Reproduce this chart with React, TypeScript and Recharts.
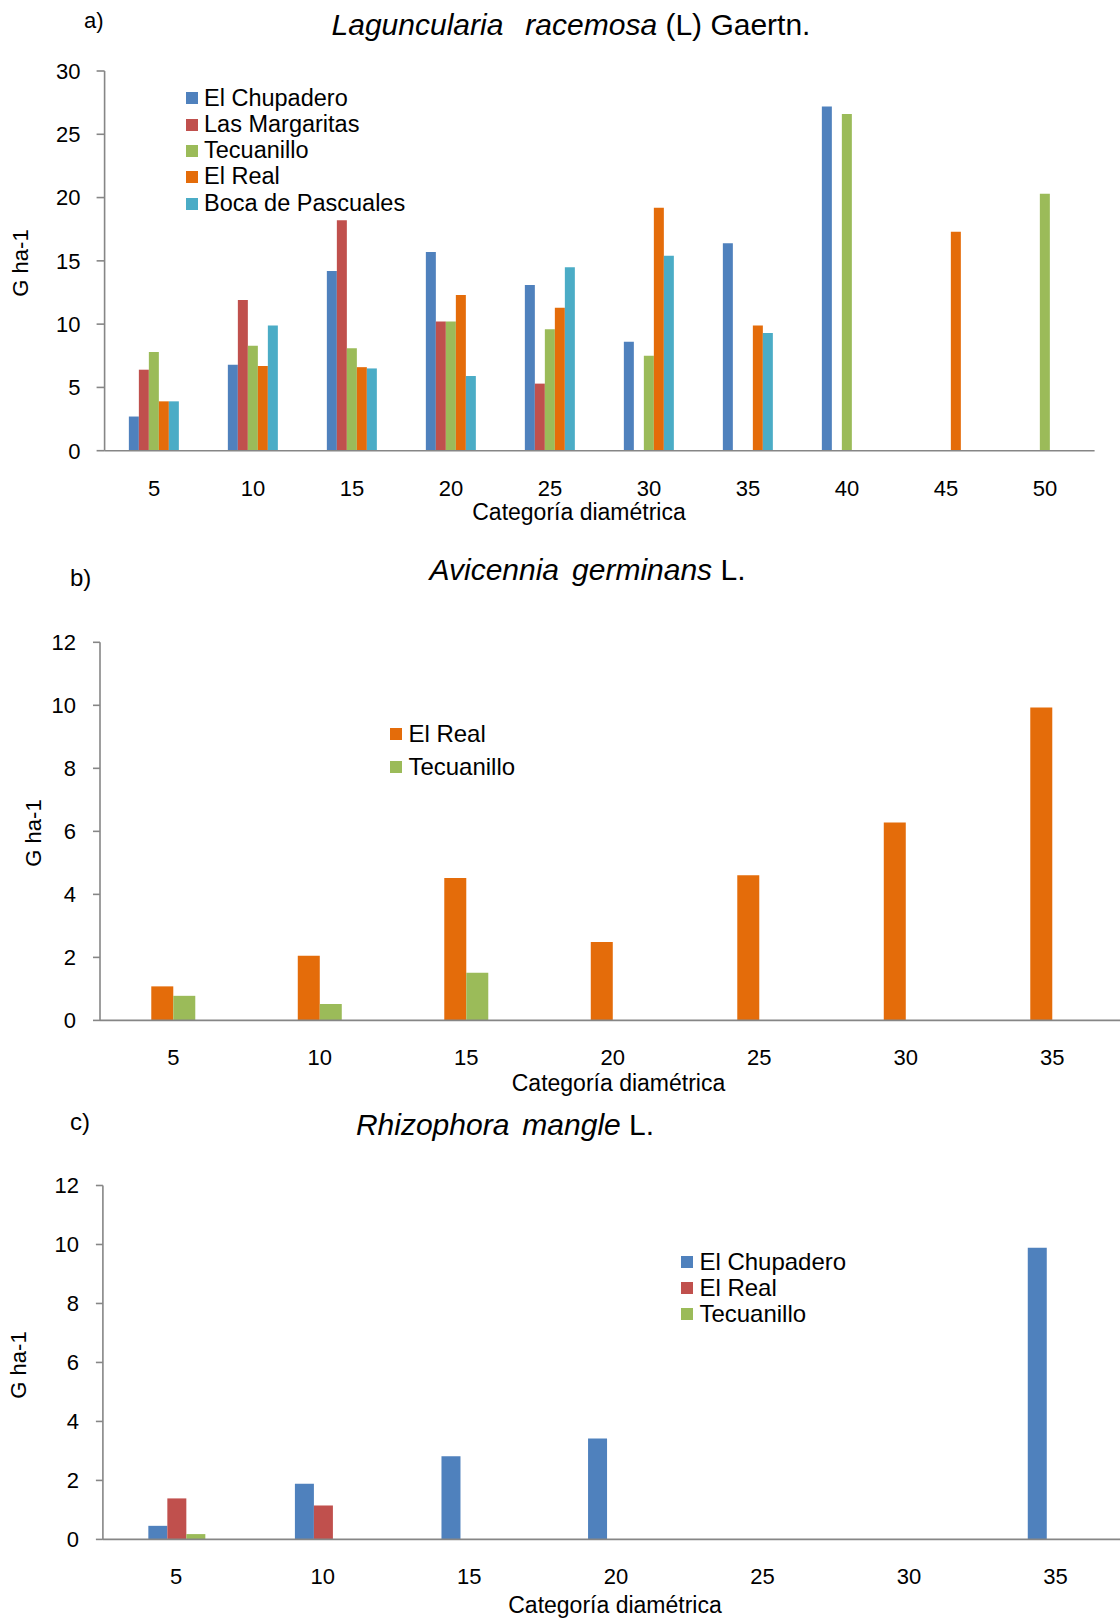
import React from 'react';
import { BarChart, Bar, XAxis, YAxis, Legend } from 'recharts';

const FONT = '"Liberation Sans", Arial, Helvetica, sans-serif';
const AXIS = '#868686';
const BLUE = '#4F81BD';
const RED = '#C0504D';
const GREEN = '#9BBB59';
const ORANGE = '#E46C0A';
const CYAN = '#4BACC6';

// ---------- Panel a) Laguncularia racemosa ----------
const categoriesA = [5, 10, 15, 20, 25, 30, 35, 40, 45, 50];
const elChupaderoA = [2.7, 6.8, 14.2, 15.7, 13.1, 8.6, 16.4, 27.2, null, null];
const lasMargaritasA = [6.4, 11.9, 18.2, 10.2, 5.3, null, null, null, null, null];
const tecuanilloA = [7.8, 8.3, 8.1, 10.2, 9.6, 7.5, null, 26.6, null, 20.3];
const elRealA = [3.9, 6.7, 6.6, 12.3, 11.3, 19.2, 9.9, null, 17.3, null];
const bocaDePascualesA = [3.9, 9.9, 6.5, 5.9, 14.5, 15.4, 9.3, null, null, null];
const yTicksA = [0, 5, 10, 15, 20, 25, 30];

// ---------- Panel b) Avicennia germinans ----------
const categoriesB = [5, 10, 15, 20, 25, 30, 35];
const elRealB = [1.08, 2.05, 4.52, 2.49, 4.61, 6.28, 9.93];
const tecuanilloB = [0.78, 0.52, 1.51, null, null, null, null];
const yTicksB = [0, 2, 4, 6, 8, 10, 12];

// ---------- Panel c) Rhizophora mangle ----------
const categoriesC = [5, 10, 15, 20, 25, 30, 35];
const elChupaderoC = [0.46, 1.89, 2.82, 3.42, null, null, 9.89];
const elRealC = [1.39, 1.15, null, null, null, null, null];
const tecuanilloC = [0.18, null, null, null, null, null, null];
const yTicksC = [0, 2, 4, 6, 8, 10, 12];

type Series = { key: string; name: string; color: string; values: (number | null)[] };

const seriesA: Series[] = [
  { key: 'chup', name: 'El Chupadero', color: BLUE, values: elChupaderoA },
  { key: 'marg', name: 'Las Margaritas', color: RED, values: lasMargaritasA },
  { key: 'tecu', name: 'Tecuanillo', color: GREEN, values: tecuanilloA },
  { key: 'real', name: 'El Real', color: ORANGE, values: elRealA },
  { key: 'boca', name: 'Boca de Pascuales', color: CYAN, values: bocaDePascualesA },
];
const seriesB: Series[] = [
  { key: 'real', name: 'El Real', color: ORANGE, values: elRealB },
  { key: 'tecu', name: 'Tecuanillo', color: GREEN, values: tecuanilloB },
];
const seriesC: Series[] = [
  { key: 'chup', name: 'El Chupadero', color: BLUE, values: elChupaderoC },
  { key: 'real', name: 'El Real', color: RED, values: elRealC },
  { key: 'tecu', name: 'Tecuanillo', color: GREEN, values: tecuanilloC },
];

function buildData(categories: number[], series: Series[]) {
  return categories.map((c, i) => {
    const row: any = { cat: String(c) };
    series.forEach((s) => {
      row[s.key] = s.values[i];
    });
    return row;
  });
}

const legendContent = (series: Series[], rowH: number, fontSize: number) => (props: any) => {
  const order = series.map((s) => s.name);
  const items = [...(props.payload || [])].sort(
    (a: any, b: any) => order.indexOf(a.value) - order.indexOf(b.value)
  );
  return (
    <div style={{ fontFamily: FONT }}>
      {items.map((p: any) => (
        <div key={p.value} style={{ display: 'flex', alignItems: 'center', height: rowH }}>
          <span
            style={{ display: 'inline-block', width: 12, height: 12, background: p.color, marginRight: 6, flex: 'none' }}
          />
          <span style={{ fontSize, lineHeight: 1, color: '#000', whiteSpace: 'nowrap' }}>{p.value}</span>
        </div>
      ))}
    </div>
  );
};

type PanelProps = {
  top: number;
  width: number;
  height: number;
  margin: { top: number; right: number; bottom: number; left: number };
  categories: number[];
  series: Series[];
  yTicks: number[];
  gap: string;
  tickSizeY: number;
  tickMarginX: number;
  legendLeft: number;
  legendTop: number;
  legendRowH: number;
  legendFont: number;
};

function Panel(p: PanelProps) {
  const data = buildData(p.categories, p.series);
  const yMax = p.yTicks[p.yTicks.length - 1];
  return (
    <div style={{ position: 'absolute', left: 0, top: p.top, width: p.width, height: p.height }}>
      <BarChart width={p.width} height={p.height} data={data} margin={p.margin} barCategoryGap={p.gap} barGap={0}>
        <XAxis
          dataKey="cat"
          height={40}
          interval={0}
          tickLine={false}
          tickSize={6}
          tickMargin={p.tickMarginX}
          axisLine={{ stroke: AXIS, strokeWidth: 1.6 }}
          tick={{ fill: '#000', fontSize: 22, fontFamily: FONT }}
        />
        <YAxis
          width={70}
          domain={[0, yMax]}
          ticks={p.yTicks}
          interval={0}
          tickSize={p.tickSizeY}
          tickMargin={24 - p.tickSizeY}
          axisLine={{ stroke: AXIS, strokeWidth: 1.6 }}
          tickLine={{ stroke: AXIS, strokeWidth: 1.6 }}
          tick={{ fill: '#000', fontSize: 22, fontFamily: FONT }}
        />
        <Legend
          layout="vertical"
          align="center"
          verticalAlign="middle"
          wrapperStyle={{ left: p.legendLeft, top: p.legendTop, width: 'auto', height: 'auto' }}
          content={legendContent(p.series, p.legendRowH, p.legendFont)}
        />
        {p.series.map((s) => (
          <Bar key={s.key} dataKey={s.key} name={s.name} fill={s.color} isAnimationActive={false} />
        ))}
      </BarChart>
    </div>
  );
}

function TextAt(props: {
  x: number;
  baseline: number;
  size: number;
  anchor?: 'start' | 'middle';
  children: React.ReactNode;
}) {
  const { x, baseline, size, anchor = 'start', children } = props;
  return (
    <div
      style={{
        position: 'absolute',
        left: x,
        top: baseline - 0.8465 * size,
        fontSize: size,
        lineHeight: 1,
        fontFamily: FONT,
        color: '#000',
        whiteSpace: 'nowrap',
        transform: anchor === 'middle' ? 'translateX(-50%)' : undefined,
      }}
    >
      {children}
    </div>
  );
}

function VText(props: { cx: number; cy: number; size: number; children: React.ReactNode }) {
  return (
    <div
      style={{
        position: 'absolute',
        left: props.cx,
        top: props.cy,
        fontSize: props.size,
        lineHeight: 1,
        fontFamily: FONT,
        color: '#000',
        whiteSpace: 'nowrap',
        transform: 'translate(-50%, -50%) rotate(-90deg)',
      }}
    >
      {props.children}
    </div>
  );
}

export default function App() {
  return (
    <div
      style={{
        position: 'absolute',
        left: 0,
        top: 0,
        width: 1120,
        height: 1621,
        overflow: 'hidden',
        background: '#fff',
        fontFamily: FONT,
      }}
    >
      {/* Panel a */}
      <Panel
        top={0}
        width={1120}
        height={520}
        margin={{ top: 71, right: 25.4, bottom: 29.3, left: 34.6 }}
        categories={categoriesA}
        series={seriesA}
        yTicks={yTicksA}
        gap="24.5%"
        tickSizeY={8}
        tickMarginX={23.5}
        legendLeft={186}
        legendTop={85.2}
        legendRowH={26.3}
        legendFont={23.5}
      />
      <TextAt x={84} baseline={28.3} size={22}>a)</TextAt>
      <TextAt x={571} baseline={35} size={30} anchor="middle">
        <i>Laguncularia</i>
        <i style={{ marginLeft: 22 }}>racemosa</i> (L) Gaertn.
      </TextAt>
      <VText cx={20.6} cy={262.5} size={22}>G ha-1</VText>
      <TextAt x={579} baseline={520} size={23} anchor="middle">Categoría diamétrica</TextAt>

      {/* Panel b */}
      <Panel
        top={540}
        width={1140}
        height={560}
        margin={{ top: 102.3, right: 14.5, bottom: 39.6, left: 30 }}
        categories={categoriesB}
        series={seriesB}
        yTicks={yTicksB}
        gap="35%"
        tickSizeY={7}
        tickMarginX={22.6}
        legendLeft={390.4}
        legendTop={177.2}
        legendRowH={33.4}
        legendFont={24}
      />
      <TextAt x={70} baseline={586.5} size={24}>b)</TextAt>
      <TextAt x={587.5} baseline={580.6} size={30} anchor="middle">
        <i>Avicennia</i>
        <i style={{ marginLeft: 13 }}>germinans</i> L.
      </TextAt>
      <VText cx={34} cy={832.7} size={22}>G ha-1</VText>
      <TextAt x={618.5} baseline={1091} size={23} anchor="middle">Categoría diamétrica</TextAt>

      {/* Panel c */}
      <Panel
        top={1090}
        width={1140}
        height={531}
        margin={{ top: 95.5, right: 11.1, bottom: 41.6, left: 32.9 }}
        categories={categoriesC}
        series={seriesC}
        yTicks={yTicksC}
        gap="31%"
        tickSizeY={7}
        tickMarginX={23}
        legendLeft={681.4}
        legendTop={159}
        legendRowH={26}
        legendFont={24}
      />
      <TextAt x={70} baseline={1130.6} size={24}>c)</TextAt>
      <TextAt x={505} baseline={1135.7} size={30} anchor="middle">
        <i>Rhizophora</i>
        <i style={{ marginLeft: 13 }}>mangle</i> L.
      </TextAt>
      <VText cx={18.8} cy={1364.6} size={22}>G ha-1</VText>
      <TextAt x={615} baseline={1613} size={23} anchor="middle">Categoría diamétrica</TextAt>
    </div>
  );
}
